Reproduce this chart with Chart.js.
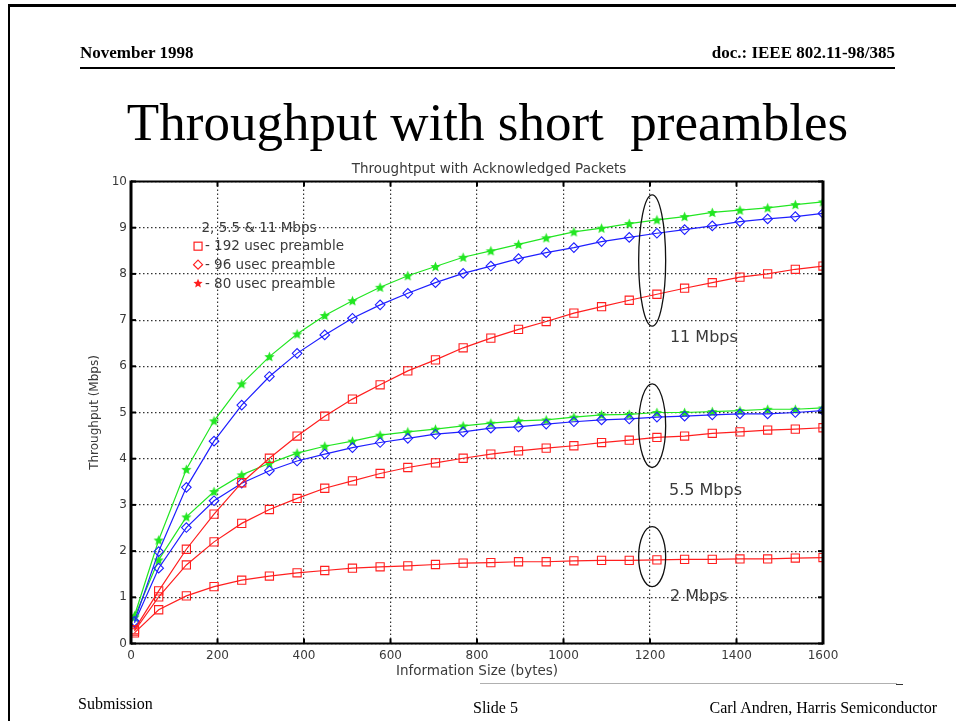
<!DOCTYPE html>
<html lang="en">
    <head>
        <meta charset="utf-8">
        <script src="https://cdn.jsdelivr.net/npm/chart.js@4"></script>
        <style>
            body { margin: 0; background: #fff; }
            #page { position: relative; width: 956px; height: 721px; overflow: hidden; font-family: "Liberation Serif", "Times New Roman", serif; color: #000; }
            #myChart { position: absolute; left: 0; top: 0; }
            .txt { position: absolute; white-space: pre; }
            .rule { position: absolute; background: #000; }
        </style>
    </head>
    <body>
        <div id="page">
            <canvas id="myChart" width="956" height="721"></canvas>
            <div class="rule" style="left: 8px; top: 4px; width: 948px; height: 2.5px"></div>
            <div class="rule" style="left: 7.5px; top: 4px; width: 2.5px; height: 717px"></div>
            <div class="txt" style="left: 80px; top: 43.8px; font: bold 17px/17px 'Liberation Serif'">November 1998</div>
            <div class="txt" style="right: 61px; top: 43.8px; font: bold 17px/17px 'Liberation Serif'">doc.: IEEE 802.11-98/385</div>
            <div class="rule" style="left: 80px; top: 67px; width: 815px; height: 1.5px"></div>
            <div class="txt" style="left: 0; width: 975px; text-align: center; top: 95.6px; font: 53px/53px 'Liberation Serif'">Throughput with short  preambles</div>
            <div class="rule" style="left: 480px; top: 683px; width: 417px; height: 1px; background: #b0b0b0"></div>
            <div class="rule" style="left: 896px; top: 683.5px; width: 7px; height: 1.5px; background: #333"></div>
            <div class="txt" style="left: 78px; top: 695.6px; font: 16px/16px 'Liberation Serif'">Submission</div>
            <div class="txt" style="left: 473px; top: 699.6px; font: 16px/16px 'Liberation Serif'">Slide 5</div>
            <div class="txt" style="right: 19px; top: 699.6px; font: 16px/16px 'Liberation Serif'">Carl Andren, Harris Semiconductor</div>
        </div>
        <script>
            // information size in bytes
            const sizes = [8, 64, 128, 192, 256, 320, 384, 448, 512, 576, 640, 704, 768, 832, 896, 960, 1024, 1088, 1152, 1216, 1280, 1344, 1408, 1472, 1536, 1600]

            // throughput (Mbps), 11 Mbps
            const long11 = [0.30, 1.14, 2.04, 2.80, 3.48, 4.01, 4.49, 4.92, 5.29, 5.60, 5.90, 6.14, 6.40, 6.61, 6.80, 6.97, 7.15, 7.29, 7.43, 7.56, 7.69, 7.81, 7.93, 8.00, 8.10, 8.17]
            const short96_11 = [0.48, 1.99, 3.38, 4.38, 5.16, 5.78, 6.28, 6.68, 7.04, 7.33, 7.58, 7.81, 8.01, 8.17, 8.33, 8.46, 8.57, 8.70, 8.79, 8.88, 8.96, 9.04, 9.13, 9.19, 9.24, 9.31]
            const short80_11 = [0.60, 2.24, 3.77, 4.82, 5.62, 6.21, 6.70, 7.10, 7.42, 7.71, 7.96, 8.16, 8.36, 8.50, 8.64, 8.78, 8.91, 8.99, 9.09, 9.17, 9.24, 9.33, 9.38, 9.43, 9.50, 9.56]

            // 5.5 Mbps
            const long55 = [0.27, 1.01, 1.70, 2.20, 2.60, 2.90, 3.14, 3.36, 3.52, 3.68, 3.81, 3.91, 4.01, 4.10, 4.17, 4.23, 4.28, 4.35, 4.40, 4.46, 4.49, 4.55, 4.58, 4.62, 4.64, 4.67]
            const short96_55 = [0.45, 1.63, 2.51, 3.09, 3.47, 3.74, 3.95, 4.10, 4.24, 4.35, 4.44, 4.53, 4.58, 4.66, 4.69, 4.75, 4.80, 4.84, 4.86, 4.90, 4.92, 4.95, 4.97, 4.97, 5.00, 5.04]
            const short80_55 = [0.57, 1.81, 2.74, 3.29, 3.65, 3.90, 4.12, 4.27, 4.38, 4.51, 4.58, 4.64, 4.71, 4.77, 4.82, 4.84, 4.90, 4.95, 4.96, 5.00, 5.00, 5.02, 5.04, 5.07, 5.07, 5.10]

            // 2 Mbps
            const long2 = [0.23, 0.73, 1.03, 1.23, 1.37, 1.46, 1.53, 1.58, 1.63, 1.66, 1.68, 1.71, 1.74, 1.75, 1.77, 1.77, 1.79, 1.80, 1.80, 1.81, 1.82, 1.82, 1.83, 1.83, 1.85, 1.86]

            const xTicks = [0, 200, 400, 600, 800, 1000, 1200, 1400, 1600]
            const yTicks = [0, 1, 2, 3, 4, 5, 6, 7, 8, 9, 10]

            const RED = "#ff1f1f"
            const BLUE = "#1f1fff"
            const GREEN = "#22e622"
            const SANS = "'DejaVu Sans', sans-serif"
            const GREY = "#3a3a3a"

            function starPath(g, cx, cy, r) {
                g.beginPath()
                for (let i = 0; i < 10; i++) {
                    const rr = i % 2 ? r * 0.45 : r
                    const a = -Math.PI / 2 + i * Math.PI / 5
                    g.lineTo(cx + rr * Math.cos(a), cy + rr * Math.sin(a))
                }
                g.closePath()
            }

            function starImage(color, r) {
                const c = document.createElement("canvas")
                const s = Math.ceil(r * 2 + 2)
                c.width = s
                c.height = s
                const g = c.getContext("2d")
                starPath(g, s / 2, s / 2 + 0.5, r)
                g.fillStyle = color
                g.fill()
                return c
            }
            const greenStar = starImage(GREEN, 5.4)

            function series(values, color, style) {
                const ds = {
                    data: values.map((v, i) => ({ x: sizes[i], y: v })),
                    borderColor: color,
                    borderWidth: 1.2,
                    pointBorderColor: color,
                    pointBackgroundColor: "rgba(0,0,0,0)",
                    pointBorderWidth: 1.1,
                    tension: 0,
                }
                if (style === "square") {
                    ds.pointStyle = "rect"
                    ds.pointRadius = 5.8
                } else if (style === "diamond") {
                    ds.pointStyle = "rectRot"
                    ds.pointRadius = 4.8
                } else {
                    ds.pointStyle = greenStar
                    ds.pointRadius = 5
                }
                return ds
            }

            const decor = {
                id: "decor",
                afterDraw(chart) {
                    const { ctx, chartArea: a, scales } = chart
                    const x = scales.x
                    const y = scales.y
                    const seg = (x1, y1, x2, y2) => {
                        ctx.beginPath()
                        ctx.moveTo(x1, y1)
                        ctx.lineTo(x2, y2)
                        ctx.stroke()
                    }
                    ctx.save()
                    ctx.strokeStyle = "#000"
                    ctx.lineWidth = 2
                    seg(a.left, a.top, a.right, a.top)
                    seg(a.left, a.bottom, a.right, a.bottom)
                    ctx.lineWidth = 3
                    seg(a.left, a.top - 1, a.left, a.bottom + 1)
                    seg(a.right, a.top - 1, a.right, a.bottom + 1)
                    // inward tick marks
                    ctx.lineWidth = 2
                    xTicks.forEach((v) => {
                        const px = x.getPixelForValue(v)
                        seg(px, a.bottom, px, a.bottom - 5)
                        seg(px, a.top, px, a.top + 5)
                    })
                    yTicks.forEach((v) => {
                        const py = y.getPixelForValue(v)
                        seg(a.left, py, a.left + 5, py)
                        seg(a.right, py, a.right - 5, py)
                    })

                    // chart title
                    ctx.fillStyle = GREY
                    ctx.font = "13.5px " + SANS
                    ctx.textAlign = "center"
                    ctx.textBaseline = "alphabetic"
                    ctx.fillText("Throughtput with Acknowledged Packets", (a.left + a.right) / 2 + 12, a.top - 8.5)

                    // ellipses round the 1200 byte points
                    ctx.strokeStyle = "#111"
                    ctx.lineWidth = 1.3
                    ;[[9.71, 6.87], [5.62, 3.81], [2.53, 1.23]].forEach(([top, bot]) => {
                        const t = y.getPixelForValue(top)
                        const b = y.getPixelForValue(bot)
                        ctx.beginPath()
                        ctx.ellipse(x.getPixelForValue(1205), (t + b) / 2, 13.5, (b - t) / 2, 0, 0, Math.PI * 2)
                        ctx.stroke()
                    })

                    // rate labels
                    ctx.fillStyle = GREY
                    ctx.font = "16px " + SANS
                    ctx.textAlign = "left"
                    ctx.fillText("11 Mbps", x.getPixelForValue(1246), y.getPixelForValue(6.53))
                    ctx.fillText("5.5 Mbps", x.getPixelForValue(1244), y.getPixelForValue(3.21))
                    ctx.fillText("2 Mbps", x.getPixelForValue(1246), y.getPixelForValue(0.92))

                    // marker key
                    ctx.font = "13.5px " + SANS
                    ctx.fillText("2, 5.5 & 11 Mbps", x.getPixelForValue(163), y.getPixelForValue(8.9))
                    const tx = x.getPixelForValue(171)
                    const mx = x.getPixelForValue(155)
                    ctx.fillText("- 192 usec preamble", tx, y.getPixelForValue(8.52))
                    ctx.fillText("- 96 usec preamble", tx, y.getPixelForValue(8.11))
                    ctx.fillText("- 80 usec preamble", tx, y.getPixelForValue(7.69))
                    ctx.strokeStyle = RED
                    ctx.lineWidth = 1.2
                    const sq = y.getPixelForValue(8.6)
                    ctx.strokeRect(mx - 4, sq - 4, 8, 8)
                    const dm = y.getPixelForValue(8.2)
                    ctx.beginPath()
                    ctx.moveTo(mx, dm - 4.5)
                    ctx.lineTo(mx + 4.5, dm)
                    ctx.lineTo(mx, dm + 4.5)
                    ctx.lineTo(mx - 4.5, dm)
                    ctx.closePath()
                    ctx.stroke()
                    starPath(ctx, mx, y.getPixelForValue(7.79), 4.8)
                    ctx.fillStyle = RED
                    ctx.fill()
                    ctx.restore()
                },
            }

            const ctx = document.getElementById("myChart")
            new Chart(ctx, {
                type: "line",
                data: {
                    datasets: [
                        series(long11, RED, "square"),
                        series(short96_11, BLUE, "diamond"),
                        series(short80_11, GREEN, "star"),
                        series(long55, RED, "square"),
                        series(short96_55, BLUE, "diamond"),
                        series(short80_55, GREEN, "star"),
                        series(long2, RED, "square"),
                    ],
                },
                options: {
                    responsive: false,
                    animation: false,
                    layout: { padding: { left: 80, right: 133, top: 181.5, bottom: 37.5 } },
                    plugins: {
                        legend: { display: false },
                        title: { display: false },
                        tooltip: { enabled: false },
                    },
                    scales: {
                        x: {
                            type: "linear",
                            min: 0,
                            max: 1600,
                            afterFit: (s) => { s.height = 40 },
                            afterBuildTicks: (s) => { s.ticks = xTicks.map((v) => ({ value: v })) },
                            ticks: { color: GREY, padding: 5.5, maxRotation: 0, autoSkip: false, font: { family: SANS, size: 12 }, callback: (v) => String(v) },
                            grid: { color: "#333", lineWidth: 1.2, drawTicks: false },
                            border: { display: false, dash: [1.5, 2.5] },
                            title: { display: true, text: "Information Size (bytes)", color: GREY, font: { family: SANS, size: 13.5 }, padding: { top: 0, bottom: 3.5 } },
                        },
                        y: {
                            type: "linear",
                            min: 0,
                            max: 10,
                            afterFit: (s) => { s.width = 51 },
                            afterBuildTicks: (s) => { s.ticks = yTicks.map((v) => ({ value: v })) },
                            ticks: { color: GREY, padding: 4, font: { family: SANS, size: 12 }, callback: (v) => String(v) },
                            grid: { color: "#333", lineWidth: 1.2, drawTicks: false },
                            border: { display: false, dash: [1.5, 2.5] },
                            title: { display: true, text: "Throughput (Mbps)", color: GREY, font: { family: SANS, size: 12 }, padding: { top: 8, bottom: 0 } },
                        },
                    },
                },
                plugins: [decor],
            })
        </script>
    </body>
</html>
